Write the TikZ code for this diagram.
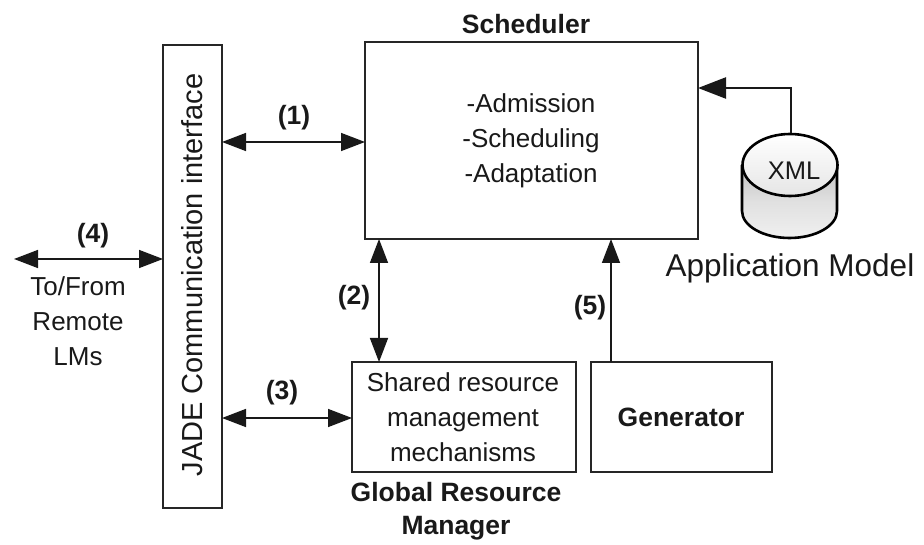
\documentclass[tikz,border=0pt]{standalone}
\usepackage{fontspec}
\setmainfont{Liberation Sans}
\usetikzlibrary{arrows.meta,calc}
\tikzset{
  box/.style={draw=black!85,line width=1.5pt,inner sep=0pt,outer sep=0pt,fill=white},
  link/.style={draw=black!90,line width=1.5pt,{Triangle[length=24pt,width=18pt]}-{Triangle[length=24pt,width=18pt]},shorten <=0pt,shorten >=0pt},
  one/.style={draw=black!90,line width=1.5pt,-{Triangle[length=24pt,width=18pt]}},
  txt/.style={font=\fontsize{26}{35}\selectfont,text=black!90,inner sep=0pt,align=center},
  bold/.style={font=\fontsize{26.5}{33}\selectfont\bfseries,text=black!90,inner sep=0pt,align=center},
}
\begin{document}
\begin{tikzpicture}[x=1pt,y=-1pt]
\useasboundingbox (0,0) rectangle (924,545);
\node[box,minimum width=59pt,minimum height=463pt] (jade) at (192.5,276.5) {};
\node[txt,rotate=90,font=\fontsize{29}{33}\selectfont] (jadet) at (192,275) {JADE Communication interface};
\node[box,minimum width=333pt,minimum height=197pt] (sched) at (531.5,140.5) {};
\node[txt] (schedt) at (531,141) {-Admission\\-Scheduling\\-Adaptation};
\node[bold] (schedl) at (526,24) {Scheduler};
\node[box,minimum width=224pt,minimum height=110pt] (res) at (464,417) {};
\node[txt] (rest) at (463,417) {Shared resource\\management\\mechanisms};
\node[bold] (resl) at (456,511) {Global Resource\\Manager};
\node[box,minimum width=181pt,minimum height=110pt] (gen) at (681.5,417) {};
\node[bold] (gent) at (681,417) {Generator};
% database
\node[minimum width=95pt,minimum height=105pt,inner sep=0pt,outer sep=0pt] (db) at (790,185.5) {};
\shade[top color=black!24,bottom color=black!6,middle color=black!12]
  (742,165) -- (742,211) arc[start angle=180,end angle=0,x radius=47.5,y radius=27] -- (837,165) -- cycle;
\draw[line width=2.6pt,black] (742,165) -- (742,211) arc[start angle=180,end angle=0,x radius=47.5,y radius=27] -- (837,165);
\draw[line width=2.6pt,black,top color=white,bottom color=black!10] (790,165) ellipse[x radius=47.5,y radius=31];
\node[txt,font=\fontsize{25.5}{29}\selectfont] (xml) at (794,171) {XML};
\node[txt,font=\fontsize{31.5}{36}\selectfont] (appl) at (790,268) {Application Model};
% connectors
\coordinate (c1) at (300,142);
\coordinate (c2) at (379,300);
\coordinate (c3) at (280,418);
\coordinate (c5) at (611,300);
\coordinate (c6) at (760,88);
\coordinate (far) at (14,259);
\draw[link] (jade.east |- c1) -- (sched.west |- c1);
\draw[link] (sched.south -| c2) -- (res.north -| c2);
\draw[link] (jade.east |- c3) -- (res.west |- c3);
\draw[link] (far) -- (jade.west |- far);
\draw[one] (gen.north -| c5) -- (sched.south -| c5);
\draw[draw=black!90,line width=2.4pt,-{Triangle[length=28pt,width=21pt]}] (db.north -| 791,0) -- (791,88) -- (sched.east |- c6);
% labels
\node[bold] (l1) at (294,118) {(1)};
\node[bold] (l2) at (354,298) {(2)};
\node[bold] (l3) at (282,393) {(3)};
\node[bold] (l4) at (93,236) {(4)};
\node[bold] (l5) at (590,308) {(5)};
\node[txt] (rem) at (78,321) {To/From\\Remote\\LMs};
\end{tikzpicture}
\end{document}
